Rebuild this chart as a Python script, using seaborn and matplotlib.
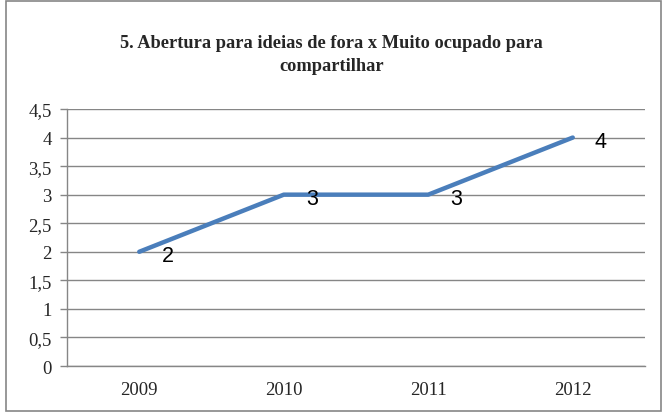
import matplotlib
matplotlib.use("Agg")
import matplotlib.pyplot as plt
import seaborn as sns
import pandas as pd

# dados do gráfico
anos = ["2009", "2010", "2011", "2012"]
valores = [2, 3, 3, 4]
titulo = "5. Abertura para ideias de fora x Muito ocupado para\ncompartilhar"

df = pd.DataFrame({"Ano": anos, "Valor": valores})

sns.set_style("white")
plt.rcParams['font.family'] = ['Liberation Serif', 'DejaVu Serif']

fig = plt.figure(figsize=(6.63, 4.14), dpi=100)
ax = fig.add_axes([67 / 663, 1 - 367 / 414, (645 - 67) / 663, (367 - 110) / 414])

sns.lineplot(x="Ano", y="Valor", data=df, ax=ax, color="#4A7EBB", linewidth=3.2,
             sort=False, solid_capstyle="round", zorder=3)

# rótulos de dados
for i, v in enumerate(valores):
    ax.annotate(str(v), (i, v), xytext=(16, -3), textcoords="offset points",
                fontsize=15.5, family=["Liberation Sans", "DejaVu Sans"],
                ha="left", va="center", color="black")

ax.set_ylim(0, 4.5)
ax.set_xlim(-0.5, len(anos) - 0.5)
yt = [0, 0.5, 1, 1.5, 2, 2.5, 3, 3.5, 4, 4.5]
ax.set_yticks(yt)
ax.set_yticklabels([f"{t:g}".replace(".", ",") for t in yt], fontsize=13.5)
ax.set_xticks(range(len(anos)))
ax.set_xticklabels(anos, fontsize=13.5)
ax.set_xticks([i - 0.5 for i in range(len(anos) + 1)], minor=True)
ax.tick_params(axis="x", which="major", length=0, pad=11)
ax.tick_params(axis="x", which="minor", length=5, width=1, color="#868686", direction="out")
ax.tick_params(axis="y", length=5, width=1, color="#868686", direction="out", pad=6, left=True)
ax.set_xlabel("")
ax.set_ylabel("")

ax.yaxis.grid(True, color="#868686", linewidth=1)
ax.xaxis.grid(False)
for s in ["top", "right"]:
    ax.spines[s].set_visible(False)
for s in ["left", "bottom"]:
    ax.spines[s].set_color("#868686")
    ax.spines[s].set_linewidth(1)

fig.text(0.5, 1 - 55 / 414, titulo, ha="center", va="center", fontsize=13.2,
         fontweight="bold", linespacing=1.4)

# borda do gráfico
fig.patches.append(plt.Rectangle((6 / 663, 2 / 414), 655 / 663, 410 / 414,
                                 transform=fig.transFigure, fill=False,
                                 edgecolor="#868686", linewidth=1.2))

fig.savefig("out.png", dpi=100)
